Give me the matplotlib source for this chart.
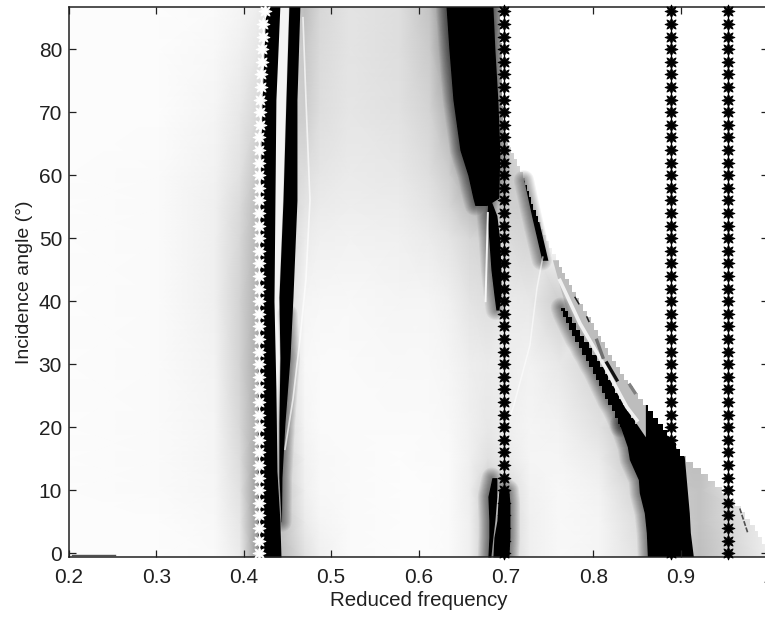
import matplotlib
matplotlib.use('Agg')
import matplotlib.pyplot as plt
import numpy as np

plt.rcParams['font.family'] = ['Liberation Sans', 'DejaVu Sans']

# background grey levels (0 black, 255 white)
bg_freq = [0.2, 0.3041, 0.367, 0.3957, 0.4162, 0.47, 0.4872, 0.5215, 0.5787, 0.613,
           0.6359, 0.6588, 0.6794, 0.7046, 0.7275, 0.7618, 0.8076, 0.8533, 0.922, 1.0]
bg_angle = [-0.6, 5, 10, 15, 20, 30, 40, 50, 55, 60, 70, 80, 86.7]
bg_grey = [
    [252, 252, 250, 235, 150, 225, 240, 250, 252, 252, 250, 240, 200, 215, 240, 248, 245, 225, 190, 238],
    [252, 252, 248, 230, 150, 235, 245, 250, 252, 252, 250, 240, 200, 215, 240, 248, 245, 220, 195, 240],
    [252, 250, 246, 225, 150, 240, 248, 250, 252, 252, 250, 238, 200, 220, 242, 248, 242, 210, 195, 255],
    [252, 250, 245, 220, 160, 242, 248, 250, 252, 250, 250, 240, 225, 235, 245, 245, 235, 190, 190, 255],
    [252, 250, 245, 215, 170, 245, 250, 250, 250, 250, 248, 240, 232, 240, 245, 242, 225, 190, 255, 255],
    [252, 250, 243, 210, 170, 248, 250, 250, 248, 248, 245, 238, 235, 238, 242, 232, 210, 255, 255, 255],
    [252, 250, 240, 210, 175, 245, 247, 248, 245, 245, 240, 228, 222, 235, 232, 205, 255, 255, 255, 255],
    [252, 250, 240, 215, 180, 235, 240, 242, 240, 235, 228, 215, 210, 218, 212, 255, 255, 255, 255, 255],
    [252, 250, 240, 218, 185, 228, 235, 238, 236, 228, 215, 190, 165, 208, 205, 255, 255, 255, 255, 255],
    [252, 250, 242, 225, 195, 222, 230, 235, 232, 222, 205, 150, 60, 200, 220, 255, 255, 255, 255, 255],
    [252, 252, 245, 232, 215, 205, 222, 230, 225, 212, 175, 60, 40, 215, 255, 255, 255, 255, 255, 255],
    [252, 252, 248, 240, 230, 200, 218, 228, 222, 202, 135, 40, 40, 230, 255, 255, 255, 255, 255, 255],
    [252, 252, 250, 245, 238, 190, 215, 228, 222, 195, 125, 40, 40, 240, 255, 255, 255, 255, 255, 255],
]

# edge of the empty white part, one value per row of the original grid
edge_angle = [-1] + list(range(0, 68)) + [75, 87]
edge_freq = [1.0, 1.0, .9963, .993, .9883, .9849, .9792, .9735, .9689, .962, .954,
             .9471, .9391, .9311, .9231, .914, .906, .8991, .8945, .89, .8842,
             .8796, .8739, .8682, .8625, .8568, .851, .8453, .8396, .835, .8304,
             .8259, .8213, .8167, .8133, .8087, .8053, .8007, .7973, .7927, .7881,
             .7835, .7801, .7755, .7721, .7675, .7641, .7606, .7572, .7526, .7492,
             .7458, .7423, .74, .7366, .7343, .7309, .7286, .7263, .724, .7217,
             .7195, .716, .7126, .7092, .7057, .7023, .6989, .6966, .695, .693]

# black bands
a_angle = [-0.6, 5, 13, 26, 40, 56, 72, 87]
a_left = [.4162, .4162, .4162, .4162, .4175, .4185, .421, .4254]
a_right = [.4426, .4414, .438, .4368, .4346, .4357, .4368, .4414]

b_angle = [5, 12, 20.6, 31, 40.6, 56, 72, 87]
b_left = [.4429, .4403, .4403, .4414, .4403, .4449, .4483, .4517]
b_right = [.4432, .4437, .4471, .4529, .4563, .4609, .4609, .4643]

c_angle = [55.2, 56.4, 60, 64, 72, 80, 87]
c_left = [.6645, .6622, .6565, .6474, .6394, .6348, .6314]
c_right = [.6783, .692, .6925, .6931, .6908, .6874, .6851]

d_angle = [38.6, 41, 45, 49.7, 53.6, 56]
d_left = [.6886, .6863, .6829, .6805, .6783, .6794]
d_right = [.692, .6943, .6943, .6931, .6897, .6829]

e1_angle = [-0.6, 2.5, 5.2, 9, 12]
e1_left = [.6794, .6805, .6805, .6794, .684]
e1_right = [.6828, .6851, .6874, .6897, .6897]

e2_angle = [-0.6, 2.5, 5.2, 8, 10, 10.5]
e2_left = [.6851, .6863, .6897, .6908, .692, .6966]
e2_right = [.7034, .7046, .7046, .7046, .7034, .6989]

# diagonal ridge, one row per degree
f_angle = [39, 38, 37, 36, 35, 34, 33, 32, 31, 30, 29, 28, 27, 26, 25, 24, 23, 22, 21, 20]
f_left = [.7629, .7652, .7686, .7721, .7755, .7789, .7835, .787, .7915, .795, .7995, .803,
          .8064, .8098, .8133, .8167, .8213, .8247, .8281, .8304]
f_right = [.7675, .7709, .7755, .7801, .7847, .7892, .7949, .7984, .8041, .8076, .8132, .8167,
           .8213, .8247, .8293, .8339, .8385, .843, .8476, .8499]

# big block at the foot of the ridge
block_freq = [.8625, .8613, .859, .8533, .8522, .8419, .8396, .8304, .8499, .8602, .8602,
              .8613, .8796, .89, .8991, .9048, .9071, .9105, .9117, .9151]
block_angle = [-0.6, 3.2, 6.3, 9.5, 11.6, 14.8, 16.8, 20.5, 20.5, 18.4, 23.5,
               24, 21, 19, 17, 15.2, 11.6, 6.3, 3.2, -0.6]

# grey ribbon above the ridge
ribbon_freq = [.8499, .8247, .7984, .7709, .7538, .80, .90]
ribbon_angle = [19.5, 26, 32, 38, 46.5, 46.5, 19.5]

stripe_freq = [.7618, .7847, .811, .8384, .8499]
stripe_angle = [43.3, 36.5, 30.2, 23.2, 21.1]

top_ridge_angle = [46.5, 53.3, 59.2]
top_ridge_left = [.7412, .7298, .7206]
top_ridge_right = [.7481, .7366, .724]

# halo path on the right of band b, its end hidden inside the band
b_halo_freq = [.4432, .4437, .4471, .4529, .4500]
b_halo_angle = [5, 12, 20.6, 31, 38]

# pale curves in the light regions
curve1_freq = [.4678, .4712, .4758, .4712, .4644, .4564, .4472]
curve1_angle = [85, 72, 56, 43.5, 34, 24.5, 16.5]
curve2_freq = [.6932, .7092, .7275, .7355, .7423]
curve2_angle = [17, 23.5, 33, 42, 47]
curve3_freq = [.6794, .6767]
curve3_angle = [54, 40]

# star markers
star_angle = list(range(0, 88, 2))
white_star_freq = [.418] * 34 + [.4185, .4185, .419, .4195, .42, .4205, .421, .4215, .4225, .424]
star_freq_1 = .698
star_freq_2 = .8895
star_freq_3 = .954

x_ticks = [0.2, 0.3, 0.4, 0.5, 0.6, 0.7, 0.8, 0.9, 1.0]
x_labels = ['0.2', '0.3', '0.4', '0.5', '0.6', '0.7', '0.8', '0.9', '1']
y_ticks = [0, 10, 20, 30, 40, 50, 60, 70, 80]


def glow(ax, freq, angle):
    # soft grey halo beside a black band, many faint strokes
    for lw in np.arange(1, 16, 1.5):
        ax.plot(freq, angle, color='black', lw=lw, alpha=0.05, solid_capstyle='round')


fig = plt.figure(figsize=(7.65, 6.17), dpi=100)
ax = fig.add_axes([69 / 765, 60 / 617, 699 / 765, 550 / 617])

ax.pcolormesh(bg_freq, bg_angle, np.array(bg_grey), cmap='gray', vmin=0, vmax=255,
              shading='gouraud', rasterized=True)

# halos
glow(ax, f_left, f_angle)
glow(ax, block_freq[:8], block_angle[:8])
glow(ax, c_left, c_angle)
glow(ax, d_left, d_angle)
glow(ax, e1_left, e1_angle)
glow(ax, e2_right, e2_angle)
glow(ax, top_ridge_left, top_ridge_angle)
glow(ax, b_halo_freq, b_halo_angle)

# pale curves
ax.plot(curve1_freq, curve1_angle, color='white', lw=1.2, alpha=0.7)
ax.plot(curve2_freq, curve2_angle, color='white', lw=1.1, alpha=0.6)
ax.plot(curve3_freq, curve3_angle, color='white', lw=1.4, alpha=0.9)

# bands
ax.fill(ribbon_freq, ribbon_angle, color='#bdbdbd', lw=0)
ax.plot(stripe_freq, stripe_angle, color='#f0f0f0', lw=2.6)
ax.fill(a_right + b_left[::-1], a_angle + b_angle[::-1], color='#f4f4f4', lw=0)
ax.fill_betweenx(f_angle, f_left, f_right, step='mid', color='black', lw=0)
ax.fill(block_freq, block_angle, color='black', lw=0)
for ang, left, right in [(a_angle, a_left, a_right), (b_angle, b_left, b_right),
                         (c_angle, c_left, c_right), (d_angle, d_left, d_right),
                         (e1_angle, e1_left, e1_right), (e2_angle, e2_left, e2_right),
                         (top_ridge_angle, top_ridge_left, top_ridge_right)]:
    ax.fill_betweenx(ang, left, right, color='black', lw=0)

ax.plot([.8156, .827], [30.2, 27.5], color='#101010', lw=2.4)
ax.plot([.8041, .811], [33.8, 31.1], color='#707070', lw=2.4)
ax.plot([.8419, .8476], [26.7, 25.5], color='#808080', lw=2.4)

# empty white part with its stair edge
ax.fill_betweenx(edge_angle, edge_freq, 1.01, step='mid', color='white', lw=0)

ax.plot([.7792, .7835], [40.6, 39.6], color='#202020', lw=1.1)
ax.plot([.7927, .795], [37.5, 36.8], color='#202020', lw=1.1)
ax.plot([.9677, .9769], [7.1, 3.2], color='#505050', lw=1.2, ls=(0, (3, 1)))
ax.plot([.203, .253], [-0.35, -0.35], color='#505050', lw=1.0)

star = dict(ls='none', marker=(8, 1, 0), ms=9.5, mew=0.6, clip_on=False, zorder=5)
ax.plot(white_star_freq, star_angle, color='white', **star)
for f in [star_freq_1, star_freq_2, star_freq_3]:
    ax.plot([f] * len(star_angle), star_angle, color='black', **star)

ax.set_xlim(0.2, 1.0)
ax.set_ylim(-0.6, 86.7)
ax.set_xticks(x_ticks)
ax.set_xticklabels(x_labels)
ax.set_yticks(y_ticks)
ax.tick_params(direction='in', length=5, width=0.9, top=True, right=True,
               labelsize=15, color='#202020', labelcolor='#202020')
ax.tick_params(axis='x', pad=8)
ax.tick_params(axis='y', pad=5)
for s in ax.spines.values():
    s.set_linewidth(1.1)
    s.set_color('#202020')
ax.set_xlabel('Reduced frequency', fontsize=14.8, color='#202020', labelpad=3)
ax.set_ylabel('Incidence angle (°)', fontsize=14, color='#202020', labelpad=4)

fig.savefig('out.png', dpi=100)
